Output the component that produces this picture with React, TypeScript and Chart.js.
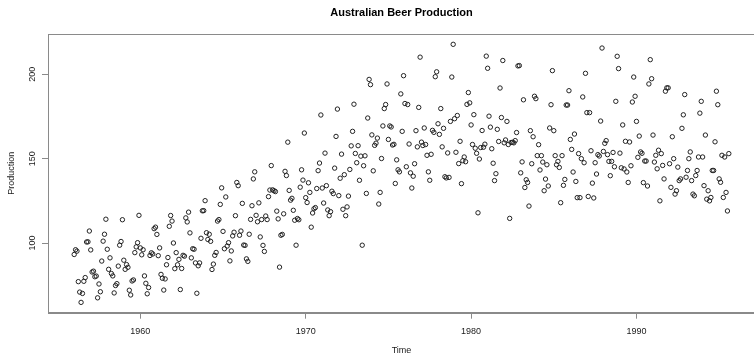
import React, { useEffect, useRef } from "react";
import { Chart, registerables } from "chart.js";

Chart.register(...registerables);

// Monthly series, starting January 1956
const START_YEAR = 1956;

const prod1950s: number[] = [
  93.2, 96.0, 95.2, 77.1, 70.9, 64.8, 70.1, 77.3, 79.5, 100.6, 100.7, 107.1,
  95.9, 82.8, 83.3, 80.0, 80.4, 67.5, 75.7, 71.1, 89.3, 101.1, 105.2, 114.1,
  96.3, 84.4, 91.2, 81.9, 80.5, 70.4, 74.8, 75.9, 86.3, 98.7, 100.9, 113.8,
  89.8, 84.4, 87.2, 85.6, 72.0, 69.2, 77.5, 78.1, 94.3, 97.7, 100.2, 116.4,
];

const prod1960s: number[] = [
  97.1, 93.0, 96.0, 80.5, 76.1, 69.9, 73.6, 92.6, 94.2, 93.5, 108.5, 109.4,
  105.1, 92.5, 97.1, 81.4, 79.1, 72.1, 78.7, 87.1, 91.4, 109.9, 116.3, 113.0,
  100.0, 84.8, 94.3, 87.1, 90.3, 72.4, 84.9, 92.7, 92.2, 114.9, 112.5, 118.3,
  106.0, 91.2, 96.6, 96.3, 88.2, 70.2, 86.5, 88.2, 102.8, 119.1, 119.2, 125.1,
  106.1, 102.1, 105.2, 101.0, 84.3, 87.5, 92.7, 94.4, 113.0, 113.9, 122.9, 132.7,
  106.9, 96.6, 127.3, 98.2, 100.2, 89.4, 95.3, 104.2, 106.4, 116.2, 135.9, 134.0,
  104.6, 107.1, 123.5, 98.8, 98.6, 90.6, 89.1, 105.2, 114.0, 122.1, 138.0, 142.2,
  116.4, 112.6, 123.8, 103.6, 113.9, 98.6, 95.0, 116.0, 113.9, 127.5, 131.4, 145.9,
  131.5, 131.0, 130.5, 118.9, 114.3, 85.7, 104.6, 105.1, 117.3, 142.5, 140.0, 159.8,
  131.2, 125.4, 126.5, 119.4, 113.5, 98.7, 114.5, 113.8, 133.1, 143.4, 137.3, 165.2,
];

const prod1970s: number[] = [
  126.9, 124.0, 135.7, 130.0, 109.4, 117.8, 120.3, 121.0, 132.3, 142.9, 147.4, 175.9,
  132.6, 123.7, 153.3, 134.0, 119.6, 116.2, 118.6, 130.7, 129.3, 144.4, 163.2, 179.4,
  128.1, 138.4, 152.7, 120.0, 140.5, 116.2, 121.4, 127.8, 143.6, 157.6, 166.2, 182.3,
  153.1, 147.6, 157.7, 137.2, 151.5, 98.7, 145.8, 151.7, 129.4, 174.1, 197.0, 193.9,
  164.1, 142.8, 157.9, 159.2, 162.2, 123.1, 130.0, 150.1, 169.4, 179.7, 182.1, 194.3,
  161.4, 169.4, 168.8, 158.1, 158.5, 135.3, 149.3, 143.4, 142.2, 188.4, 166.2, 199.2,
  182.7, 145.2, 182.1, 158.7, 141.6, 132.6, 139.6, 147.0, 166.6, 157.0, 180.4, 210.2,
  159.8, 157.8, 168.2, 158.4, 152.0, 142.2, 137.2, 152.6, 166.8, 165.6, 198.6, 201.5,
  170.7, 164.4, 179.7, 157.0, 168.0, 139.3, 138.6, 153.4, 138.9, 172.1, 198.4, 217.8,
  173.7, 153.8, 175.6, 147.1, 160.3, 135.2, 148.8, 151.0, 148.2, 182.2, 189.2, 183.1,
];

const prod1980s: number[] = [
  170.0, 158.4, 176.1, 156.2, 153.2, 117.9, 149.8, 156.6, 166.7, 156.8, 158.6, 210.8,
  203.6, 175.2, 168.7, 155.9, 147.3, 137.0, 141.1, 167.4, 160.2, 191.9, 174.4, 208.2,
  159.4, 161.1, 172.1, 158.4, 114.6, 159.6, 159.7, 159.4, 160.7, 165.5, 205.0, 205.2,
  141.6, 148.1, 184.9, 132.9, 137.5, 135.9, 121.9, 166.6, 147.0, 163.0, 187.0, 185.6,
  151.8, 158.3, 143.3, 151.8, 148.0, 131.0, 137.9, 146.4, 133.8, 168.2, 182.0, 202.2,
  166.6, 151.8, 146.4, 148.4, 144.8, 123.9, 151.8, 134.2, 137.7, 181.8, 181.8, 190.3,
  161.4, 155.5, 142.1, 164.6, 136.5, 126.9, 153.0, 126.9, 150.0, 186.6, 147.6, 200.6,
  177.3, 127.6, 177.3, 154.7, 135.5, 126.7, 147.6, 140.9, 152.4, 151.6, 172.3, 215.6,
  154.3, 159.1, 160.7, 152.4, 148.4, 139.9, 148.4, 153.7, 145.2, 184.0, 210.7, 203.4,
  153.3, 144.6, 170.0, 143.9, 160.3, 142.1, 135.9, 159.9, 145.8, 183.6, 198.4, 187.0,
];

const prod1990s: number[] = [
  172.1, 150.8, 163.4, 154.0, 153.2, 135.8, 148.6, 148.6, 133.8, 194.3, 208.7, 197.4,
  164, 148, 152, 144, 155, 125, 153, 146, 138, 190, 192, 192,
  147, 133, 163, 150, 129, 131, 145, 137, 138, 168, 176, 188,
  139, 143, 150, 154, 137, 129, 128, 140, 143, 151, 177, 184,
  151, 134, 164, 126, 131, 125, 127, 143, 143, 160, 190, 182,
  138, 136, 152, 127, 151, 130, 119, 153,
];

const xTickValues: number[] = [1960, 1970, 1980, 1990];
const yTickValues: number[] = [100, 150, 200];

const TITLE = "Australian Beer Production";
const X_LABEL = "Time";
const Y_LABEL = "Production";

const FONT = "'Liberation Sans', Arial, Helvetica, sans-serif";
const AXIS_COLOR = "#8a8a8a";
const TEXT_COLOR = "#1a1a1a";

export default function App() {
  const canvasRef = useRef<HTMLCanvasElement | null>(null);

  useEffect(() => {
    document.body.style.margin = "0";
    const canvas = canvasRef.current;
    if (!canvas) return;

    const values = [...prod1950s, ...prod1960s, ...prod1970s, ...prod1980s, ...prod1990s];
    const points = values.map((v, i) => ({ x: START_YEAR + i / 12, y: v }));

    const xMin = START_YEAR;
    const xMax = START_YEAR + (values.length - 1) / 12;
    const xPad = (xMax - xMin) * 0.04;
    const yMin = Math.min(...values);
    const yMax = Math.max(...values);
    const yPad = (yMax - yMin) * 0.04;

    const boxPlugin = {
      id: "rbox",
      afterDraw(chart: any) {
        const { ctx, chartArea: a } = chart;
        ctx.save();
        ctx.strokeStyle = AXIS_COLOR;
        ctx.lineWidth = 1;
        ctx.strokeRect(
          Math.round(a.left) + 0.5,
          Math.round(a.top) + 0.5,
          Math.round(a.right - a.left),
          Math.round(a.bottom - a.top)
        );
        ctx.restore();
      },
    };

    const chart = new Chart(canvas, {
      type: "scatter",
      data: {
        datasets: [
          {
            data: points,
            showLine: false,
            pointStyle: "circle",
            pointRadius: 2.2,
            pointBorderWidth: 1,
            pointBorderColor: "#222",
            pointBackgroundColor: "rgba(0,0,0,0)",
          },
        ],
      },
      options: {
        responsive: false,
        animation: false,
        events: [],
        layout: { padding: { left: 0, right: 15, top: 0, bottom: 0 } },
        plugins: {
          legend: { display: false },
          tooltip: { enabled: false },
          title: {
            display: true,
            text: TITLE,
            fullSize: false,
            color: "#000",
            font: { family: FONT, size: 11, weight: "bold", lineHeight: 1.2 },
            padding: { top: 6.4, bottom: 14.4 },
          },
        },
        scales: {
          x: {
            type: "linear",
            position: "bottom",
            min: xMin - xPad,
            max: xMax + xPad,
            afterBuildTicks: (s: any) => {
              s.ticks = xTickValues.map((v) => ({ value: v }));
            },
            afterFit: (s: any) => {
              s.height = 42.3;
            },
            grid: { drawOnChartArea: false, drawTicks: true, tickLength: 6, color: AXIS_COLOR },
            border: { display: true, color: AXIS_COLOR },
            ticks: {
              color: TEXT_COLOR,
              font: { family: FONT, size: 9 },
              padding: 7,
              maxRotation: 0,
              autoSkip: false,
              callback: (v: any) => String(v),
            },
            title: {
              display: true,
              text: X_LABEL,
              color: TEXT_COLOR,
              font: { family: FONT, size: 9, lineHeight: 1 },
              padding: { top: 0, bottom: 0 },
            },
          },
          y: {
            type: "linear",
            position: "left",
            min: yMin - yPad,
            max: yMax + yPad,
            afterBuildTicks: (s: any) => {
              s.ticks = yTickValues.map((v) => ({ value: v }));
            },
            afterFit: (s: any) => {
              s.width = 48;
            },
            grid: { drawOnChartArea: false, drawTicks: true, tickLength: 6, color: AXIS_COLOR },
            border: { display: true, color: AXIS_COLOR },
            ticks: {
              color: TEXT_COLOR,
              font: { family: FONT, size: 9 },
              minRotation: 90,
              maxRotation: 90,
              crossAlign: "center",
              padding: 1.5,
              autoSkip: false,
              callback: (v: any) => String(v),
            },
            title: {
              display: true,
              text: Y_LABEL,
              color: TEXT_COLOR,
              font: { family: FONT, size: 9, lineHeight: 1.2 },
              padding: { top: 6, bottom: 0 },
            },
          },
        },
      } as any,
      plugins: [boxPlugin],
    });

    return () => chart.destroy();
  }, []);

  return (
    <div style={{ width: 754, height: 355, overflow: "hidden" }}>
      <canvas ref={canvasRef} width={770} height={355} style={{ display: "block" }} />
    </div>
  );
}
